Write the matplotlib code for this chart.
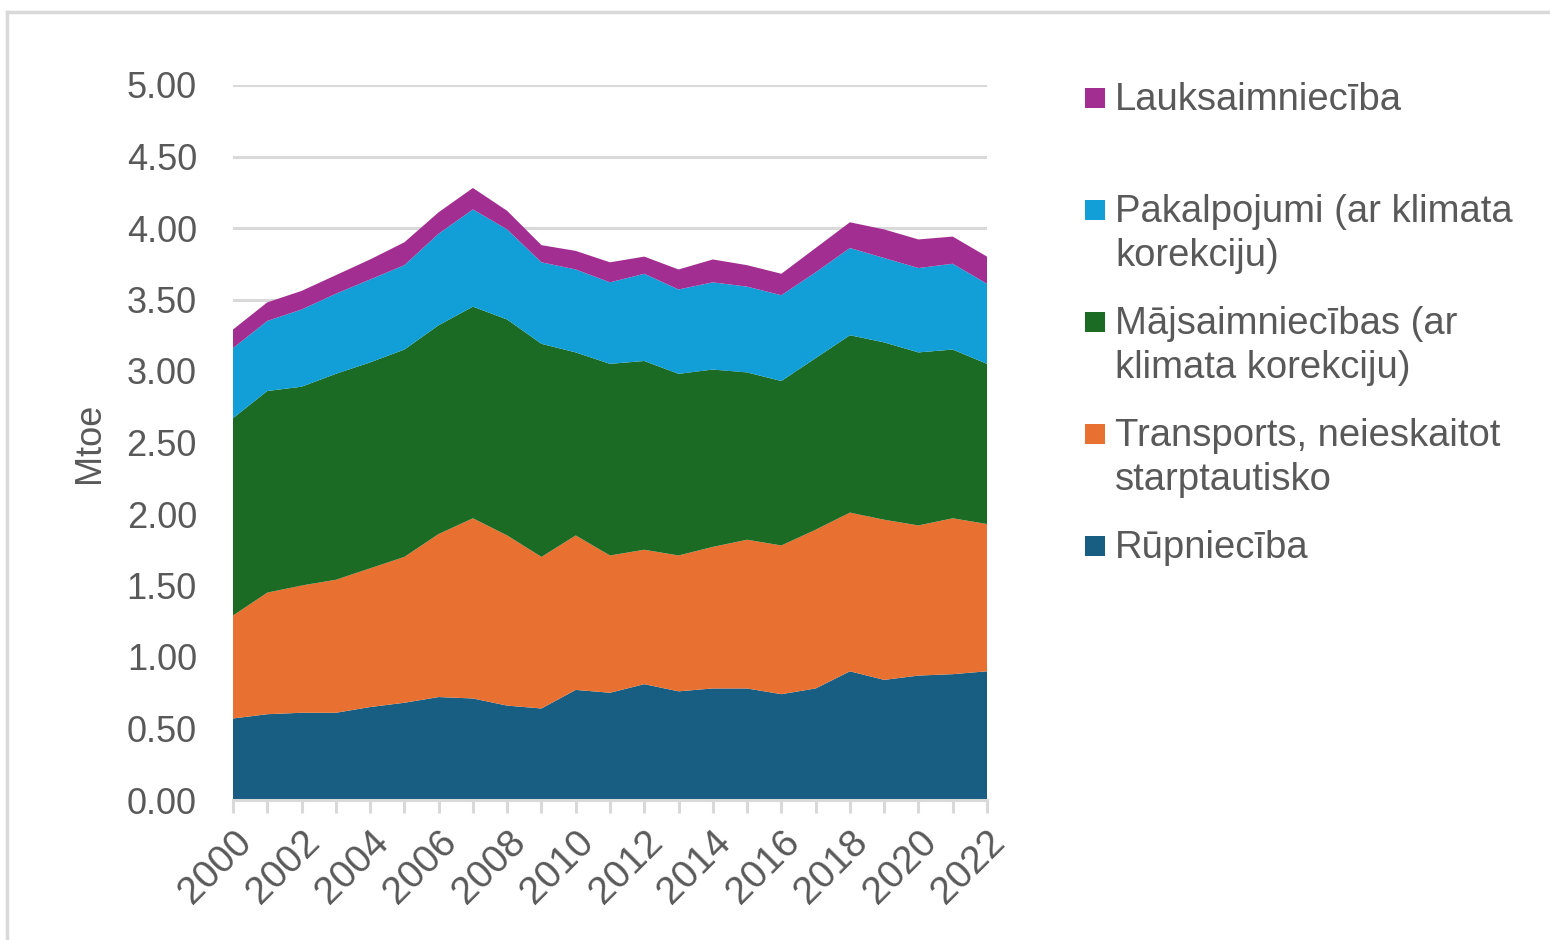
import matplotlib
matplotlib.use("Agg")
import matplotlib.pyplot as plt
from matplotlib.patches import Rectangle
from matplotlib.lines import Line2D

plt.rcParams['font.family'] = ['Liberation Sans', 'DejaVu Sans']

years = list(range(2000, 2023))

# Mtoe by sector
rupnieciba = [0.57, 0.60, 0.61, 0.61, 0.65, 0.68, 0.72, 0.71, 0.66, 0.64, 0.77, 0.75,
              0.81, 0.76, 0.78, 0.78, 0.74, 0.78, 0.90, 0.84, 0.87, 0.88, 0.90]
transports = [0.72, 0.85, 0.89, 0.93, 0.97, 1.02, 1.14, 1.26, 1.19, 1.06, 1.08, 0.96,
              0.94, 0.95, 0.99, 1.04, 1.04, 1.11, 1.11, 1.12, 1.05, 1.09, 1.03]
majsaimniecibas = [1.38, 1.41, 1.39, 1.44, 1.44, 1.45, 1.46, 1.48, 1.51, 1.49, 1.28, 1.34,
                   1.32, 1.27, 1.24, 1.17, 1.15, 1.20, 1.24, 1.24, 1.21, 1.18, 1.12]
pakalpojumi = [0.49, 0.49, 0.54, 0.56, 0.58, 0.59, 0.64, 0.68, 0.63, 0.57, 0.58, 0.57,
               0.61, 0.59, 0.61, 0.60, 0.60, 0.60, 0.61, 0.59, 0.59, 0.60, 0.56]
lauksaimnieciba = [0.13, 0.13, 0.13, 0.13, 0.14, 0.16, 0.15, 0.15, 0.13, 0.12, 0.13, 0.14,
                   0.12, 0.14, 0.16, 0.15, 0.15, 0.17, 0.18, 0.20, 0.20, 0.19, 0.19]

series = [rupnieciba, transports, majsaimniecibas, pakalpojumi, lauksaimnieciba]
labels = ["Rūpniecība", "Transports, neieskaitot\nstarptautisko",
          "Mājsaimniecības (ar\nklimata korekciju)", "Pakalpojumi (ar klimata\nkorekciju)",
          "Lauksaimniecība"]
colors = ["#175E82", "#E87132", "#1B6B25", "#129ED6", "#A22E91"]

yticks = [0, 0.5, 1.0, 1.5, 2.0, 2.5, 3.0, 3.5, 4.0, 4.5, 5.0]
ytick_labels = [f"{v:.2f}" for v in yticks]
xtick_labels = [str(y) if y % 2 == 0 else "" for y in years]

text_color = "#595959"
grid_color = "#D9D9D9"
fs = 26

fig = plt.figure(figsize=(15.5, 9.4), dpi=100)
ax = fig.add_axes([233 / 1550, 1 - 800 / 940, (987 - 233) / 1550, (800 - 85) / 940])

ax.stackplot(years, *series, colors=colors, linewidth=0, zorder=2)

ax.set_xlim(2000, 2022)
ax.set_ylim(0, 5)
ax.set_yticks(yticks)
ax.set_yticklabels(ytick_labels)
ax.set_xticks(years)
ax.set_xticklabels(xtick_labels, rotation=45, ha="right", rotation_mode="anchor")

ax.grid(axis="y", color=grid_color, linewidth=2.2, zorder=0)
ax.set_axisbelow(True)
for side in ["left", "right", "top"]:
    ax.spines[side].set_visible(False)
ax.spines["bottom"].set_color(grid_color)
ax.spines["bottom"].set_linewidth(2.2)
ax.spines["bottom"].set_zorder(3)

ax.tick_params(axis="y", length=0, pad=26, labelsize=fs, labelcolor=text_color)
ax.tick_params(axis="x", length=9, width=2.2, color=grid_color, pad=8,
               labelsize=28, labelcolor=text_color)

ax.set_ylabel("Mtoe", fontsize=fs, color=text_color, labelpad=14)

# legend drawn by hand, top entry first
legend_order = [4, 3, 2, 1, 0]
for i, idx in enumerate(legend_order):
    yc = 98 + 112 * i
    fig.patches.append(Rectangle((1085 / 1550, 1 - (yc + 10) / 940), 20 / 1550, 20 / 940,
                                 transform=fig.transFigure, facecolor=colors[idx],
                                 edgecolor="none"))
    fig.text(1115 / 1550, 1 - (yc - 16) / 940, labels[idx], fontsize=27.5, color=text_color,
             va="top", ha="left", linespacing=1.27)

# outer frame (top and left edges)
fig.add_artist(Line2D([7 / 1550, 7 / 1550], [0, 1 - 12 / 940], transform=fig.transFigure,
                      color=grid_color, linewidth=2.5))
fig.add_artist(Line2D([7 / 1550, 1], [1 - 12 / 940, 1 - 12 / 940], transform=fig.transFigure,
                      color=grid_color, linewidth=2.5))

fig.savefig("out.png", dpi=100)
